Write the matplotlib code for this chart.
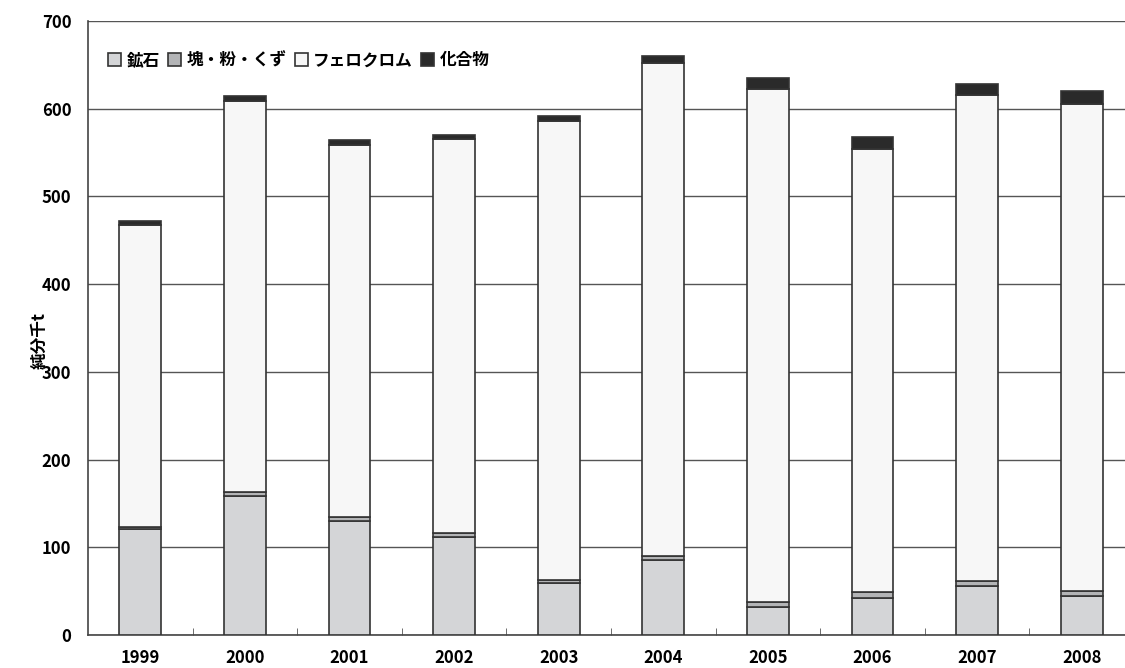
import numpy as np
import matplotlib.pyplot as plt
from matplotlib.ticker import FixedLocator

plt.rcParams['font.family'] = ['Noto Sans CJK JP', 'DejaVu Sans']

years = ['1999', '2000', '2001', '2002', '2003', '2004', '2005', '2006', '2007', '2008']
ore = [121, 159, 130, 112, 59, 86, 32, 42, 56, 45]
lump = [2.5, 4.5, 5, 4.5, 4, 4, 5.5, 7, 5, 5]
ferro = [344, 445.5, 424, 449, 523, 562, 585, 505, 555, 555]
compound = [5, 5.5, 5.5, 4.5, 6, 8, 13, 13.5, 12.5, 15]

names = ['鉱石', '塊・粉・くず', 'フェロクロム', '化合物']
colors = ['#d4d5d7', '#b3b4b6', '#f7f7f7', '#2a2a2a']

fig = plt.figure(figsize=(11.25, 6.68), dpi=100)
ax = fig.add_axes([0.0782, 0.0494, 0.9218, 0.9192])

x = np.arange(len(years))
bottom = np.zeros(len(years))
for vals, name, c in zip([ore, lump, ferro, compound], names, colors):
    ax.bar(x, vals, width=0.4, bottom=bottom, color=c, edgecolor='#333333',
           linewidth=1.2, label=name, zorder=3)
    bottom += np.array(vals)

ax.set_ylim(0, 700)
ax.set_xlim(-0.5, 9.414)
ax.set_yticks(range(0, 701, 100))
ax.set_xticks(x)
ax.set_xticklabels(years)
ax.xaxis.set_minor_locator(FixedLocator(np.arange(0.5, 9.5, 1)))
ax.tick_params(axis='x', which='major', length=0, pad=10)
ax.tick_params(axis='x', which='minor', length=5, direction='in', color='#555555')
ax.tick_params(axis='y', length=0, pad=12)
for lab in ax.get_xticklabels() + ax.get_yticklabels():
    lab.set_fontweight('bold')
    lab.set_fontsize(12)

ax.grid(axis='y', color='#555555', linewidth=1, zorder=0)
ax.spines['top'].set_visible(False)
ax.spines['right'].set_visible(False)
ax.spines['left'].set_color('#444444')
ax.spines['bottom'].set_color('#444444')
ax.spines['left'].set_linewidth(1.2)
ax.spines['bottom'].set_linewidth(1.2)

ax.set_ylabel('純分千t', fontsize=12, fontweight='bold')
ax.yaxis.set_label_coords(-0.038, 0.48)

leg = ax.legend(loc='upper left', bbox_to_anchor=(0.005, 0.975), ncol=4, frameon=False,
                handlelength=0.8, handleheight=0.8, handletextpad=0.3, columnspacing=0.5,
                prop={'weight': 'bold', 'size': 12})

fig.savefig('out.png', dpi=100)
